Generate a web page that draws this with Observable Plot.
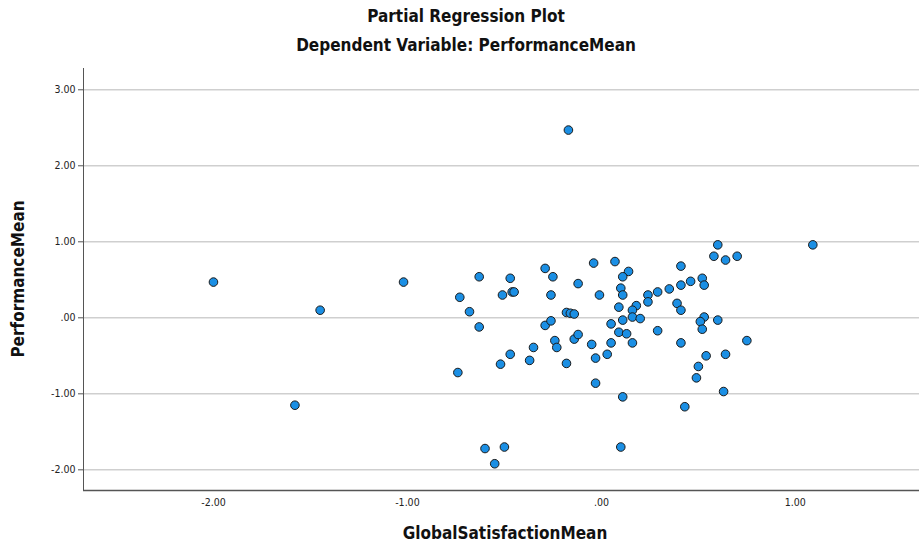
<!DOCTYPE html>
<html><head><meta charset="utf-8">
<script src="https://cdn.jsdelivr.net/npm/d3@7"></script>
<script src="https://cdn.jsdelivr.net/npm/@observablehq/plot@0.6"></script>
<style>
body{margin:0;background:#fff;font-family:"DejaVu Sans Condensed","DejaVu Sans",sans-serif;font-stretch:condensed;}
#wrap{position:relative;width:919px;height:544px;overflow:hidden;}
.t{position:absolute;left:0;width:932px;text-align:center;font-weight:bold;color:#111;font-size:17px;line-height:20px;}
.ax{position:absolute;font-weight:bold;color:#111;font-size:17px;line-height:18px;white-space:nowrap;}
</style></head><body><div id="wrap">
<div class="t" style="top:6px">Partial Regression Plot</div>
<div class="t" style="top:35px">Dependent Variable: PerformanceMean</div>
<div id="chart" style="position:absolute;top:60px;left:0"></div>
<div class="ax" id="ylab" style="left:18px;top:279px;transform:translate(-50%,-50%) rotate(-90deg);">PerformanceMean</div>
<div class="ax" id="xlab" style="left:505px;top:533px;transform:translate(-50%,-50%);">GlobalSatisfactionMean</div>
</div>
<script>
const globalSatisfaction = [
 -2.00,-1.45,-1.02,-1.58,-0.17,1.09,-0.73,-0.74,-0.68,-0.63,
 -0.63,-0.52,-0.47,-0.35,-0.37,-0.29,-0.26,-0.18,-0.16,-0.14,
 -0.24,-0.23,-0.14,-0.12,-0.18,-0.05,-0.03,-0.03,0.05,0.03,
 0.05,0.09,0.09,0.11,0.10,-0.60,-0.50,-0.55,-0.51,-0.47,
 -0.46,-0.45,-0.29,-0.25,-0.26,-0.12,-0.04,0.07,-0.01,0.60,
 0.58,0.64,0.70,0.41,0.14,0.11,0.10,0.11,0.24,0.24,
 0.29,0.35,0.41,0.46,0.52,0.53,0.39,0.41,0.18,0.16,
 0.16,0.20,0.11,0.53,0.51,0.60,0.52,0.29,0.13,0.16,
 0.41,0.75,0.54,0.64,0.50,0.49,0.63,0.43
];
const performanceMean = [
 0.47,0.10,0.47,-1.15,2.47,0.96,0.27,-0.72,0.08,-0.12,
 0.54,-0.61,-0.48,-0.39,-0.56,-0.10,-0.04,0.07,0.06,0.05,
 -0.30,-0.39,-0.28,-0.22,-0.60,-0.35,-0.53,-0.86,-0.33,-0.48,
 -0.08,0.14,-0.19,-1.04,-1.70,-1.72,-1.70,-1.92,0.30,0.52,
 0.34,0.34,0.65,0.54,0.30,0.45,0.72,0.74,0.30,0.96,
 0.81,0.76,0.81,0.68,0.61,0.54,0.39,0.30,0.30,0.21,
 0.34,0.38,0.43,0.48,0.52,0.43,0.19,0.10,0.16,0.10,
 0.01,-0.01,-0.03,0.01,-0.05,-0.03,-0.15,-0.17,-0.21,-0.33,
 -0.33,-0.30,-0.50,-0.48,-0.64,-0.79,-0.97,-1.17
];
const yTicks = [-2, -1, 0, 1, 2, 3];
const xTicks = [-2, -1, 0, 1];
const xDomain = [-2.67, 1.64];
const yDomain = [-2.272, 3.28];

const points = globalSatisfaction.map((x, i) => ({x, y: performanceMean[i]}));
const fmt = d => d === 0 ? ".00" : d3.format(".2f")(d).replace("−", "-");
const font = '"DejaVu Sans Condensed", "DejaVu Sans", sans-serif';

const chart = Plot.plot({
  width: 919, height: 484,
  marginTop: 8, marginBottom: 54, marginLeft: 83, marginRight: 0,
  style: {fontFamily: font, fontStretch: "condensed", fontSize: "10.5px", color: "#222", background: "#fff"},
  x: {domain: xDomain},
  y: {domain: yDomain},
  marks: [
    Plot.ruleY(yTicks, {stroke: "#cfcfcf", strokeWidth: 1.5}),
    Plot.axisY(yTicks, {tickFormat: fmt, tickSize: 5, tickPadding: 3, label: null, stroke: "#555", fontSize: 10.5}),
    Plot.axisX(xTicks, {tickFormat: fmt, tickSize: 0, tickPadding: 8, label: null, fontSize: 10.5}),
    Plot.ruleX([xDomain[0]], {stroke: "#555", strokeWidth: 1}),
    Plot.ruleY([yDomain[0]], {stroke: "#555", strokeWidth: 1.5}),
    Plot.dot(points, {x: "x", y: "y", r: 4.3, fill: "#1b8fe4", stroke: "#1a1a1a", strokeWidth: 1})
  ]
});
document.getElementById("chart").appendChild(chart);
</script>
</body></html>
